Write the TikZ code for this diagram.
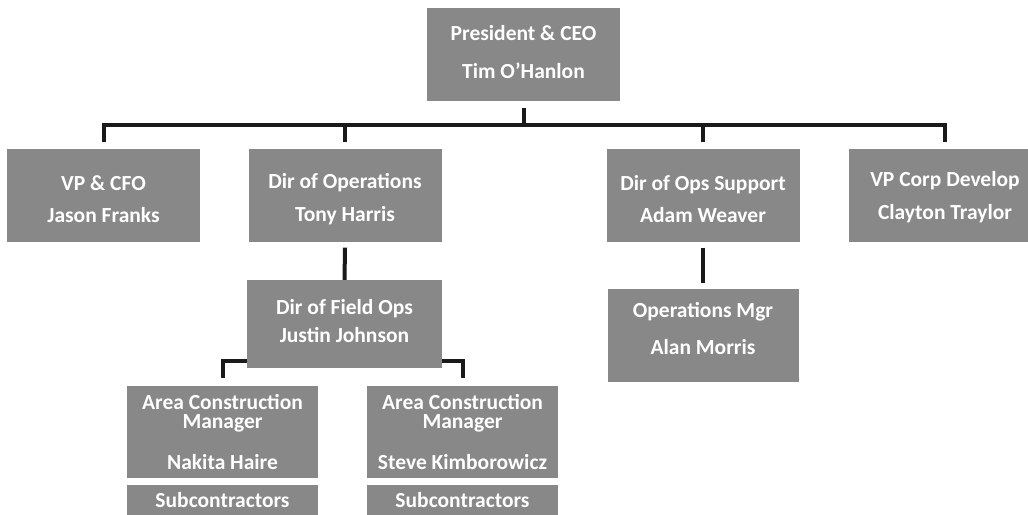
\documentclass[tikz,border=0pt]{standalone}
\usepackage{fontspec}
\setmainfont{Carlito}
\definecolor{boxgray}{HTML}{888888}
\definecolor{linedark}{HTML}{1A1A1A}
\begin{document}
\begin{tikzpicture}[x=1pt,y=-1pt,
  box/.style={fill=boxgray, minimum width=193pt, minimum height=93pt, inner sep=0pt},
  txt/.style={text=white, font=\fontsize{21.5}{25.5}\selectfont\bfseries, align=center, inner sep=0pt},
  conn/.style={draw=linedark, line width=4pt, line join=miter}]
\useasboundingbox (0,0) rectangle (1028,514);
% boxes
\node[box] (ceo) at (523.5,54) {};
\node[box] (cfo) at (103.5,195) {};
\node[box] (dirops) at (345,195) {};
\node[box] (dos) at (703,195) {};
\node[box] (vpcorp) at (945,195) {};
\node[box, minimum width=195pt, minimum height=88pt] (field) at (344.5,324) {};
\node[box, minimum width=191pt] (opsmgr) at (703,335.5) {};
\node[box, minimum width=191pt, minimum height=92pt] (mgra) at (222.5,432) {};
\node[box, minimum width=191pt, minimum height=92pt] (mgrb) at (462.5,432) {};
\node[box, minimum width=191pt, minimum height=30pt] (suba) at (222.5,500) {};
\node[box, minimum width=191pt, minimum height=30pt] (subb) at (462.5,500) {};
% texts
\node[txt] (ceo-t) at ([yshift=2pt]ceo.center) {President \& CEO\\[12pt]Tim O'Hanlon};
\node[txt] (cfo-t) at ([yshift=-4pt]cfo.center) {VP \& CFO\\[7pt]Jason Franks};
\node[txt] (dirops-t) at ([yshift=-4pt]dirops.center) {Dir of Operations\\[7pt]Tony Harris};
\node[txt] (dos-t) at ([yshift=-4pt]dos.center) {Dir of Ops Support\\[7pt]Adam Weaver};
\node[txt] (vpcorp-t) at ([yshift=-2pt]vpcorp.center) {VP Corp Develop\\[7pt]Clayton Traylor};
\node[txt] (field-t) at ([yshift=3pt]field.center) {Dir of Field Ops\\[3pt]Justin Johnson};
\node[txt] (opsmgr-t) at ([yshift=7pt]opsmgr.center) {Operations Mgr\\[12pt]Alan Morris};
\node[txt] (mgra-t) at (mgra.center) {Area Construction\\[-6pt]Manager\\[15pt]Nakita Haire};
\node[txt] (mgrb-t) at (mgrb.center) {Area Construction\\[-6pt]Manager\\[15pt]Steve Kimborowicz};
\node[txt] (suba-t) at (suba.center) {Subcontractors};
\node[txt] (subb-t) at (subb.center) {Subcontractors};
% connectors
\coordinate (bus) at (523.5,124.5);
\draw[conn] ([yshift=-7pt]ceo.south) -- (bus);
\draw[conn] ([yshift=6pt]cfo.north) |- (bus) -| ([yshift=6pt]vpcorp.north);
\draw[conn] ([yshift=6pt]dirops.north) -- (dirops.north |- bus);
\draw[conn] ([yshift=6pt]dos.north) -- (dos.north |- bus);
\draw[conn] ([yshift=-6pt]dirops.south) -- (field.north);
\draw[conn] ([yshift=-6pt]dos.south) -- ([yshift=6pt]opsmgr.north);
\draw[conn] ([yshift=7pt]field.south west) -| ([yshift=8pt]mgra.north);
\draw[conn] ([yshift=7pt]field.south east) -| ([yshift=8pt]mgrb.north);
\end{tikzpicture}
\end{document}
